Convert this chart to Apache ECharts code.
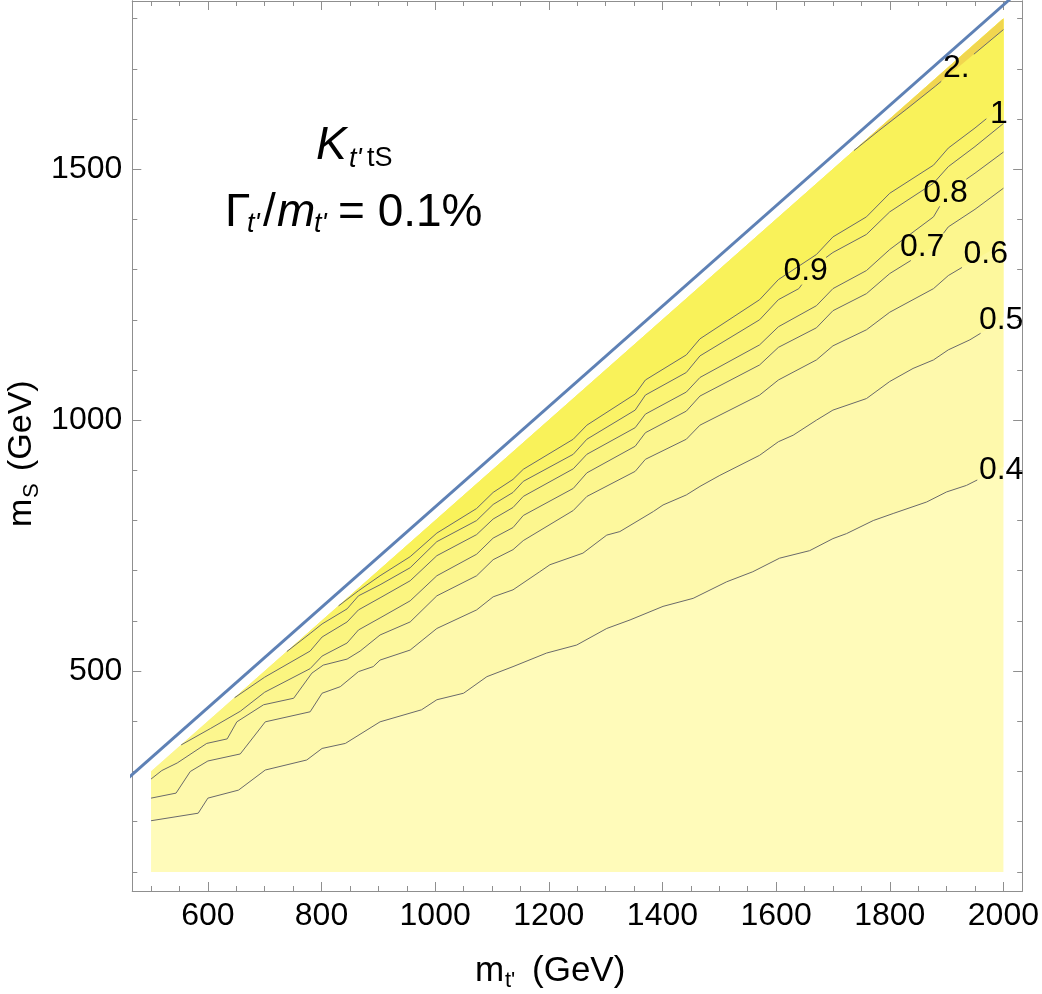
<!DOCTYPE html>
<html>
<head>
<meta charset="utf-8">
<script src="https://cdn.jsdelivr.net/npm/echarts@6/dist/echarts.min.js"></script>
<style>
html,body{margin:0;padding:0;background:#fff}
#main{width:1042px;height:994px}
</style>
</head>
<body>
<div id="main"></div>
<script>
// contour paths [m_t', m_S] (GeV)
var c04 = [[500,202],[583,217],[600,247],[654,263],[701,303],[774,323],[801,346],[842,356],[903,399],[976,423],[1003,443],[1050,456],[1091,489],[1137,509],[1196,536],[1249,552],[1302,585],[1343,602],[1401,629],[1454,645],[1513,678],[1559,698],[1606,725],[1659,740],[1700,764],[1724,774],[1771,800],[1806,814],[1865,837],[1900,857],[1935,870],[2000,907]];
var c05 = [[500,247],[544,257],[569,300],[600,321],[657,335],[701,399],[780,419],[801,456],[833,469],[865,499],[891,509],[903,522],[956,542],[1003,585],[1073,622],[1102,648],[1137,662],[1184,698],[1202,712],[1260,735],[1302,771],[1325,778],[1384,818],[1401,831],[1442,851],[1466,868],[1501,890],[1571,930],[1604,957],[1630,970],[1671,1000],[1700,1020],[1759,1043],[1800,1077],[1841,1103],[1877,1120],[1903,1140],[1941,1160],[1970,1180],[2000,1206]];
var c06 = [[500,285],[519,302],[546,317],[598,356],[634,365],[651,399],[698,433],[751,446],[783,496],[803,512],[845,524],[868,540],[903,572],[956,598],[1003,650],[1073,690],[1102,722],[1137,742],[1155,760],[1243,820],[1267,848],[1352,898],[1370,922],[1442,962],[1466,990],[1571,1050],[1604,1080],[1671,1120],[1700,1148],[1759,1180],[1800,1215],[1877,1262],[1903,1288],[1967,1331],[2000,1352]];
var c07 = [[553,353],[605,386],[657,420],[700,458],[780,505],[801,530],[845,556],[865,582],[903,606],[956,640],[1003,690],[1073,733],[1102,765],[1137,786],[1155,810],[1243,864],[1267,895],[1352,948],[1370,975],[1442,1018],[1466,1048],[1571,1110],[1604,1145],[1671,1184],[1700,1218],[1759,1252],[1800,1292],[1877,1346],[1903,1385],[1950,1420],[2000,1462]];
var c08 = [[647,447],[700,488],[780,540],[801,568],[845,598],[865,622],[903,646],[956,680],[1003,730],[1073,772],[1102,803],[1137,826],[1155,848],[1243,903],[1267,932],[1352,985],[1370,1012],[1442,1056],[1466,1085],[1571,1150],[1604,1186],[1671,1228],[1700,1262],[1759,1298],[1800,1340],[1877,1405],[1903,1455],[1950,1492],[2000,1534]];
var c09 = [[739,539],[780,575],[801,594],[845,624],[865,650],[903,672],[956,706],[1003,758],[1073,800],[1102,832],[1137,856],[1155,878],[1243,932],[1267,962],[1352,1020],[1370,1050],[1442,1095],[1466,1128],[1571,1200],[1604,1240],[1640,1262],[1671,1310],[1700,1334],[1759,1370],[1800,1415],[1877,1472],[1903,1505],[1950,1545],[2000,1591]];
var c10 = [[830,630],[865,660],[903,690],[956,728],[1003,775],[1073,824],[1102,856],[1137,882],[1155,902],[1243,962],[1267,990],[1352,1052],[1370,1080],[1442,1130],[1466,1162],[1571,1240],[1604,1280],[1671,1330],[1700,1365],[1759,1405],[1800,1452],[1877,1508],[1903,1542],[1950,1582],[2000,1628]];
var c20 = [[1737,1537],[1780,1576],[1830,1620],[1880,1665],[1930,1712],[2000,1778]];

// plotted region and the kinematic line
var regionPts = [[500,100],[2000,100],[2000,1800],[500,300]];
var edgeLine = [[460,287],[2012,1839]];

// contour labels [x, y, text], one per contour above
var contourLabels = [[1996,901,'0.4'],[1996,1200,'0.5'],[1969,1331,'0.6'],[1857,1345,'0.7'],[1898,1453,'0.8'],[1652,1297,'0.9'],[1992,1610,'1'],[1917,1702,'2.']];

// tick values
var xMajor = [600,800,1000,1200,1400,1600,1800,2000];
var xMinor = [500,550,650,700,750,850,900,950,1050,1100,1150,1250,1300,1350,1450,1500,1550,1650,1700,1750,1850,1900,1950];
var yMajor = [500,1000,1500];
var yMinor = [100,200,300,400,600,700,800,900,1100,1200,1300,1400,1600,1700,1800];

var contours = [c04,c05,c06,c07,c08,c09,c10,c20];
var baseColor = '#FFFBBA';
var bandColors = ['#FEF9AC','#FDF89D','#FCF68E','#FBF580','#FBF473','#FAF366','#F9F25A','#F1D64F'];

var FONT = 'Liberation Sans, Arial, sans-serif';
var frameColor = '#8f8f8f';

function polySeries(pts, color){
	return {
		type:'custom',
		coordinateSystem:'cartesian2d',
		silent:true,
		clip:true,
		z:1,
		data:[[pts[0][0],pts[0][1]]],
		renderItem:function(params, api){
			var p = pts.map(function(d){ return api.coord(d); });
			return {type:'polygon', shape:{points:p}, style:{fill:color}};
		}
	};
}

//region above a contour
function aboveRegion(c){
	var pts = c.slice();
	pts.push([2000,1800]);
	if (c[0][0] <= 500) pts.push([500,300]);
	return pts;
}

//break a contour where its label sits (box half sizes in GeV)
function cutLine(pts, lab){
	var hw = lab[2].length > 1 ? 42 : 22, hh = 27;
	var x0 = lab[0]-hw, x1 = lab[0]+hw, y0 = lab[1]-hh, y1 = lab[1]+hh;
	var pieces = [], cur = [];
	for (var k=0;k<pts.length;k++){
		var p = pts[k];
		if (k === 0){ cur.push(p); continue; }
		var q = pts[k-1];
		var dx = p[0]-q[0], dy = p[1]-q[1];
		var tIn = 0, tOut = 1, ok = true;
		[[-dx, q[0]-x0],[dx, x1-q[0]],[-dy, q[1]-y0],[dy, y1-q[1]]].forEach(function(e){
			if (!ok) return;
			if (e[0] === 0){ if (e[1] < 0) ok = false; return; }
			var t = e[1]/e[0];
			if (e[0] < 0){ if (t > tOut) ok = false; else if (t > tIn) tIn = t; }
			else { if (t < tIn) ok = false; else if (t < tOut) tOut = t; }
		});
		if (!ok){ cur.push(p); continue; }
		if (tIn > 0) cur.push([q[0]+dx*tIn, q[1]+dy*tIn]);
		if (cur.length > 1) pieces.push(cur);
		cur = [];
		if (tOut < 1){ cur.push([q[0]+dx*tOut, q[1]+dy*tOut]); cur.push(p); }
	}
	if (cur.length > 1) pieces.push(cur);
	return pieces;
}

var series = [];
series.push(polySeries(regionPts, baseColor));
for (var i=0;i<contours.length;i++){
	series.push(polySeries(aboveRegion(contours[i]), bandColors[i]));
}
for (var j=0;j<contours.length;j++){
	cutLine(contours[j], contourLabels[j]).forEach(function(piece){
		series.push({
			type:'line', data:piece, showSymbol:false, silent:true, z:3,
			lineStyle:{color:'#6a6a6a', width:1}
		});
	});
}
series.push({
	type:'line', data:edgeLine, showSymbol:false, silent:true, z:4, clip:true,
	lineStyle:{color:'#5E81B5', width:3}
});
series.push({
	type:'custom', coordinateSystem:'cartesian2d', silent:true, clip:true, z:5,
	data:contourLabels,
	renderItem:function(params, api){
		var p = api.coord([api.value(0), api.value(1)]);
		return {type:'text', x:p[0], y:p[1], style:{text:contourLabels[params.dataIndex][2], fill:'#000', font:'32px '+FONT, align:'center', verticalAlign:'middle'}};
	}
});

function axisBase(pos, isX, ticks, len, labels){
	var a = {
		type:'value', position:pos,
		min: isX ? 467 : 62, max: isX ? 2033 : 1835,
		axisLine:{show:true, lineStyle:{color:frameColor, width:1}},
		axisTick:{show:true, inside:true, length:len, customValues:ticks, lineStyle:{color:frameColor, width:1}},
		splitLine:{show:false},
		axisLabel:{show:false}
	};
	if (labels){
		a.axisLabel = {show:true, customValues:labels, color:'#000', fontSize:32, fontFamily:FONT, margin: isX ? 9 : 10,
			formatter:function(v){ return String(v); }};
	}
	return a;
}

var sub = 'italic 27px '+FONT;
var big = '46px '+FONT;
var chart = echarts.init(document.getElementById('main'));
chart.setOption({
	animation:false,
	backgroundColor:'#fff',
	grid:{left:132.3, right:19.3, top:1, bottom:103, containLabel:false},
	xAxis:[axisBase('bottom',true,xMajor,9,xMajor), axisBase('bottom',true,xMinor,5), axisBase('top',true,xMajor,9), axisBase('top',true,xMinor,5)],
	yAxis:[axisBase('left',false,yMajor,9,yMajor), axisBase('left',false,yMinor,5), axisBase('right',false,yMajor,9), axisBase('right',false,yMinor,5)],
	series:series,
	graphic:[
		{type:'text', x:316, y:146, style:{text:'K', font:'italic '+big, fill:'#000', verticalAlign:'middle'}},
		{type:'text', x:349, y:159, style:{text:"t'", font:sub, fill:'#000', verticalAlign:'middle'}},
		{type:'text', x:367, y:159, style:{text:'tS', font:'27px '+FONT, fill:'#000', verticalAlign:'middle'}},
		{type:'text', x:225, y:213, style:{text:'\u0393', font:big, fill:'#000', verticalAlign:'middle'}},
		{type:'text', x:247, y:224, style:{text:"t'", font:sub, fill:'#000', verticalAlign:'middle'}},
		{type:'text', x:263, y:213, style:{text:'/', font:big, fill:'#000', verticalAlign:'middle'}},
		{type:'text', x:277, y:213, style:{text:'m', font:'italic '+big, fill:'#000', verticalAlign:'middle'}},
		{type:'text', x:314, y:224, style:{text:"t'", font:sub, fill:'#000', verticalAlign:'middle'}},
		{type:'text', x:338, y:213, style:{text:'= 0.1%', font:big, fill:'#000', verticalAlign:'middle'}},
		{type:'group', x:565, y:971, children:[
			{type:'text', x:-90, y:0, style:{text:'m', font:'35px '+FONT, fill:'#000', verticalAlign:'middle'}},
			{type:'text', x:-60, y:10, style:{text:"t'", font:'22px '+FONT, fill:'#000', verticalAlign:'middle'}},
			{type:'text', x:-33, y:0, style:{text:'(GeV)', font:'35px '+FONT, fill:'#000', verticalAlign:'middle'}}
		]},
		{type:'group', x:22, y:447, rotation:Math.PI/2, children:[
			{type:'text', x:-80, y:0, style:{text:'m', font:'34px '+FONT, fill:'#000', verticalAlign:'middle'}},
			{type:'text', x:-51, y:10, style:{text:'S', font:'22px '+FONT, fill:'#000', verticalAlign:'middle'}},
			{type:'text', x:-24, y:0, style:{text:'(GeV)', font:'34px '+FONT, fill:'#000', verticalAlign:'middle'}}
		]}
	]
});
</script>
</body>
</html>
